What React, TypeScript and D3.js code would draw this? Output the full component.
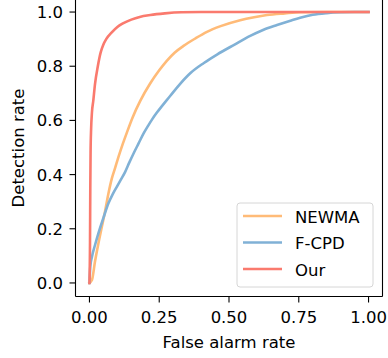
import React from "react";
import * as d3 from "d3";

const ourX = [0, 0.002, 0.003, 0.004, 0.006, 0.009, 0.014, 0.02, 0.03, 0.04, 0.05, 0.06, 0.08, 0.1, 0.12, 0.15, 0.18, 0.218, 0.27, 0.33, 0.4, 0.5, 0.7, 1.0];
const ourY = [0, 0.15, 0.35, 0.48, 0.57, 0.63, 0.675, 0.735, 0.8, 0.85, 0.88, 0.9, 0.925, 0.945, 0.958, 0.972, 0.982, 0.989, 0.995, 0.999, 1.0, 1.0, 1.0, 1.0];
const newmaX = [0, 0.009, 0.02, 0.032, 0.045, 0.056, 0.068, 0.08, 0.092, 0.104, 0.12, 0.134, 0.155, 0.182, 0.218, 0.25, 0.277, 0.305, 0.337, 0.38, 0.421, 0.47, 0.54, 0.59, 0.636, 0.7, 0.755, 0.85, 1.0];
const newmaY = [0, 0.011, 0.08, 0.146, 0.21, 0.265, 0.33, 0.385, 0.425, 0.465, 0.515, 0.555, 0.612, 0.672, 0.737, 0.785, 0.82, 0.85, 0.875, 0.903, 0.927, 0.948, 0.97, 0.981, 0.989, 0.995, 0.999, 1.0, 1.0];
const fcpdX = [0, 0.003, 0.009, 0.02, 0.032, 0.05, 0.068, 0.083, 0.098, 0.113, 0.128, 0.143, 0.158, 0.176, 0.194, 0.21, 0.224, 0.241, 0.259, 0.277, 0.289, 0.325, 0.361, 0.41, 0.457, 0.52, 0.576, 0.62, 0.672, 0.72, 0.755, 0.8, 0.85, 0.9, 0.95, 1.0];
const fcpdY = [0, 0.06, 0.097, 0.14, 0.183, 0.24, 0.294, 0.327, 0.355, 0.382, 0.41, 0.445, 0.478, 0.515, 0.552, 0.58, 0.603, 0.628, 0.652, 0.675, 0.69, 0.735, 0.774, 0.812, 0.843, 0.88, 0.912, 0.933, 0.952, 0.968, 0.979, 0.99, 0.996, 0.999, 1.0, 1.0];

const seriesNames = ["NEWMA", "F-CPD", "Our"];
const seriesColors = ["#ffbb78", "#80b1d6", "#fa7a6e"];
const xTicks = [0, 0.25, 0.5, 0.75, 1.0];
const yTicks = [0, 0.2, 0.4, 0.6, 0.8, 1.0];

export default function App() {
  const W = 388, H = 358;
  const left = 75.5, right = 382.5, top = -1.5, bottom = 296.5;
  const x = d3.scaleLinear().domain([-0.05, 1.05]).range([left, right]);
  const y = d3.scaleLinear().domain([-0.05, 1.05]).range([bottom, top]);
  const line = d3.line<[number, number]>().x(d => x(d[0])).y(d => y(d[1])).curve(d3.curveMonotoneX);
  const data: [number, number][][] = [
    newmaX.map((v, i) => [v, newmaY[i]]),
    fcpdX.map((v, i) => [v, fcpdY[i]]),
    ourX.map((v, i) => [v, ourY[i]]),
  ];
  const font = "DejaVu Sans, sans-serif";
  const fs = 16.5;
  const lx = 237, ly = 203;
  return (
    <svg width={W} height={H} style={{ position: "absolute", left: 0, top: 0 }} fontFamily={font}>
      <rect width={W} height={H} fill="#fff" />
      {data.map((d, i) => (
        <path key={i} d={line(d) || ""} fill="none" stroke={seriesColors[i]} strokeWidth={2.6} strokeLinejoin="round" strokeLinecap="square" />
      ))}
      <line x1={left} x2={left} y1={top} y2={bottom} stroke="#000" strokeWidth={1.1} />
      <line x1={right} x2={right} y1={top} y2={bottom} stroke="#000" strokeWidth={1.1} />
      <line x1={left} x2={right} y1={bottom} y2={bottom} stroke="#000" strokeWidth={1.1} />
      {xTicks.map(t => (
        <g key={t}>
          <line x1={x(t)} x2={x(t)} y1={bottom} y2={bottom + 6} stroke="#000" strokeWidth={1.1} />
          <text x={x(t)} y={323} textAnchor="middle" fontSize={fs} fill="#000">{t.toFixed(2)}</text>
        </g>
      ))}
      {yTicks.map(t => (
        <g key={t}>
          <line x1={left - 6} x2={left} y1={y(t)} y2={y(t)} stroke="#000" strokeWidth={1.1} />
          <text x={63} y={y(t) + 6} textAnchor="end" fontSize={fs} fill="#000">{t.toFixed(1)}</text>
        </g>
      ))}
      <text x={(left + right) / 2} y={348} textAnchor="middle" fontSize={fs} fill="#000">False alarm rate</text>
      <text transform={`translate(24,148) rotate(-90)`} textAnchor="middle" fontSize={fs} fill="#000">Detection rate</text>
      <rect x={lx} y={ly} width={136} height={84} rx={3} fill="#fff" fillOpacity={0.8} stroke="#d6d6d6" strokeWidth={1} />
      {seriesNames.map((n, i) => (
        <g key={n}>
          <line x1={243} x2={282} y1={216 + i * 26.5} y2={216 + i * 26.5} stroke={seriesColors[i]} strokeWidth={2.6} />
          <text x={295} y={216 + i * 26.5 + 6.5} fontSize={fs} fill="#000">{n}</text>
        </g>
      ))}
    </svg>
  );
}
